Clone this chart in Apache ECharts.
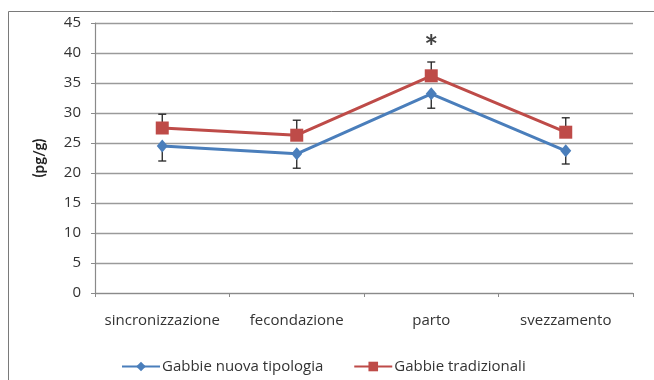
<!DOCTYPE html>
<html>
<head>
<meta charset="utf-8">
<script src="https://cdn.jsdelivr.net/npm/echarts@6/dist/echarts.min.js"></script>
<style>
  html, body { margin: 0; padding: 0; background: #fff; }
  #chart { width: 654px; height: 380px; }
</style>
</head>
<body>
<div id="chart"></div>
<script>
// Phases of the reproductive cycle
const categories = ['sincronizzazione', 'fecondazione', 'parto', 'svezzamento'];
const seriesNames = ['Gabbie nuova tipologia', 'Gabbie tradizionali'];

// Mean concentrations (pg/g)
const nuovaValues = [24.5, 23.2, 33.2, 23.7];
const tradizionaliValues = [27.5, 26.3, 36.2, 26.8];

// Standard error (drawn downward for the new cages, upward for traditional ones)
const nuovaErr = [2.5, 2.4, 2.4, 2.2];
const tradizionaliErr = [2.3, 2.5, 2.3, 2.4];

// Significance marker
const starCategory = 2;
const starValue = 41.5;

const yTicks = { min: 0, max: 45, interval: 5 };

const FONT = '"Open Sans", sans-serif';
const BOLD_FONT = 'Lato, "DejaVu Sans", sans-serif';
const BLUE = '#4a7ebb';
const RED = '#be4b48';

function errorSeries(values, errs, dir) {
  return {
    type: 'custom',
    silent: true,
    z: 1,
    data: values.map((v, i) => [i, v, v + dir * errs[i]]),
    renderItem: function (params, api) {
      const p0 = api.coord([api.value(0), api.value(1)]);
      const p1 = api.coord([api.value(0), api.value(2)]);
      const w = 4;
      const st = { stroke: '#222', lineWidth: 1.3 };
      return {
        type: 'group',
        children: [
          { type: 'line', shape: { x1: p0[0], y1: p0[1], x2: p1[0], y2: p1[1] }, style: st },
          { type: 'line', shape: { x1: p1[0] - w, y1: p1[1], x2: p1[0] + w, y2: p1[1] }, style: st }
        ]
      };
    }
  };
}

const chart = echarts.init(document.getElementById('chart'), null, { renderer: 'canvas' });
chart.setOption({
  animation: false,
  backgroundColor: '#fff',
  textStyle: { fontFamily: FONT },
  graphic: [{
    type: 'rect',
    shape: { x: 8.5, y: 11.5, width: 700, height: 420 },
    style: { fill: 'none', stroke: '#7a7a7a', lineWidth: 1 },
    silent: true,
    z: -10
  }],
  grid: { left: 95, right: 21, top: 23, bottom: 87 },
  legend: {
    bottom: 1,
    left: 116,
    itemWidth: 38,
    itemHeight: 12,
    itemGap: 30,
    textStyle: { fontFamily: FONT, fontSize: 15, color: '#333', padding: [0, 0, 0, -3] },
    data: seriesNames
  },
  xAxis: {
    type: 'category',
    data: categories,
    boundaryGap: true,
    axisLine: { lineStyle: { color: '#8a8a8a', width: 1.2 } },
    axisTick: { show: true, length: 4, lineStyle: { color: '#8a8a8a' } },
    axisLabel: { interval: 0, margin: 20, fontSize: 15, color: '#333', fontFamily: FONT }
  },
  yAxis: {
    type: 'value',
    min: yTicks.min,
    max: yTicks.max,
    interval: yTicks.interval,
    name: '(pg/g)',
    nameLocation: 'middle',
    nameRotate: 90,
    nameGap: 48,
    nameTextStyle: { fontSize: 15, fontWeight: 'bold', color: '#222', fontFamily: BOLD_FONT },
    axisLine: { show: true, lineStyle: { color: '#8a8a8a', width: 1.2 } },
    axisTick: { show: true, length: 4, lineStyle: { color: '#8a8a8a' } },
    axisLabel: { margin: 14, fontSize: 15, color: '#333', fontFamily: FONT },
    splitLine: { lineStyle: { color: '#9a9a9a', width: 1.4 } }
  },
  series: [
    errorSeries(nuovaValues, nuovaErr, -1),
    errorSeries(tradizionaliValues, tradizionaliErr, 1),
    {
      name: seriesNames[0],
      type: 'line',
      data: nuovaValues,
      z: 3,
      symbol: 'diamond',
      symbolSize: [11, 13],
      itemStyle: { color: BLUE },
      lineStyle: { color: BLUE, width: 3 }
    },
    {
      name: seriesNames[1],
      type: 'line',
      data: tradizionaliValues,
      z: 4,
      symbol: 'rect',
      symbolSize: 13,
      itemStyle: { color: RED },
      lineStyle: { color: RED, width: 3 }
    },
    {
      type: 'scatter',
      silent: true,
      z: 5,
      symbolSize: 2,
      itemStyle: { color: 'rgba(0,0,0,0)' },
      data: [[starCategory, starValue]],
      label: {
        show: true,
        position: 'inside',
        formatter: '*',
        fontSize: 33,
        fontWeight: 'bold',
        color: '#111',
        fontFamily: BOLD_FONT,
        offset: [0, 4]
      }
    }
  ]
});
</script>
</body>
</html>
